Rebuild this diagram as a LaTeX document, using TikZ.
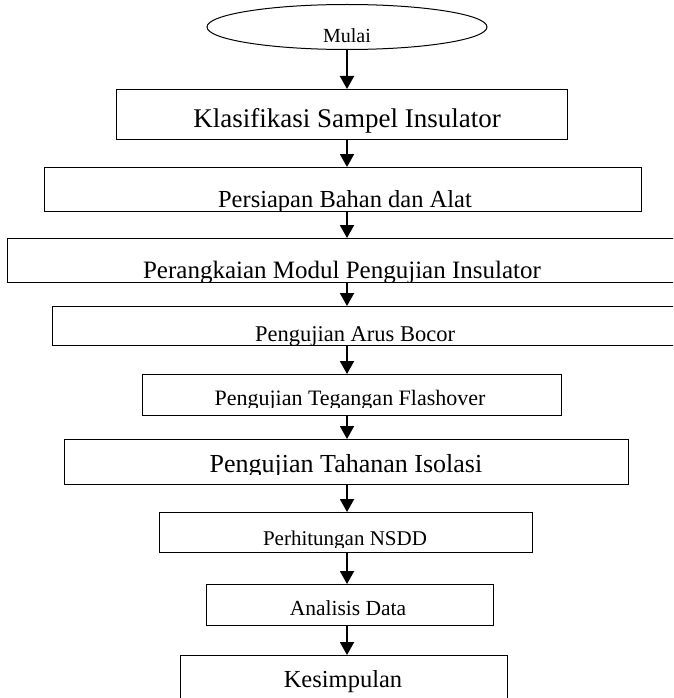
\documentclass[tikz,border=0pt]{standalone}
\usepackage{fontspec}
\setmainfont{Liberation Serif}
\usetikzlibrary{arrows.meta,shapes.geometric}

\tikzset{stepbox/.style={draw,line width=1.3pt,inner sep=0pt,anchor=north west},
startnode/.style={draw,ellipse,line width=1pt,inner sep=0pt},
steptext/.style={anchor=base,inner sep=0pt},
flow arrow/.style={line width=2pt,-{Triangle[width=14pt,length=13pt]}}}

\begin{document}
\begin{tikzpicture}[x=1pt,y=-1pt]
% page frame, 673 x 698
\clip (0,0) rectangle (673,698);
\useasboundingbox (0,0) rectangle (673,698);

%% axis of the arrows
\coordinate (axis) at (347,0);

%% start
\node [startnode,minimum width=280pt,minimum height=45pt] (mulai) at (347,27) {};
\node [steptext,font=\fontsize{20}{20}\selectfont] (mulai-text) at (347,43) {Mulai};

%% boxes
\node [stepbox,minimum width=451pt,minimum height=50pt] (klasifikasi) at (116,89) {};
\node [stepbox,minimum width=597pt,minimum height=44pt] (persiapan) at (44,167) {};
\node [stepbox,minimum width=700pt,minimum height=44pt] (perangkaian) at (7,238) {};
\node [stepbox,minimum width=700pt,minimum height=39pt] (arus) at (52,306) {};
\node [stepbox,minimum width=419pt,minimum height=41pt] (flashover) at (142,374) {};
\node [stepbox,minimum width=564pt,minimum height=45pt] (tahanan) at (64,439) {};
\node [stepbox,minimum width=373pt,minimum height=40pt] (nsdd) at (159,512) {};
\node [stepbox,minimum width=287pt,minimum height=41pt] (analisis) at (206,584) {};
\node [stepbox,minimum width=327pt,minimum height=60pt] (kesimpulan) at (180,655) {};

%% texts, cut off just under the base line
\begin{scope}
\clip (0,89) rectangle (673,139);
\node [steptext,font=\fontsize{27}{27}\selectfont] (klasifikasi-text) at (347,128) {Klasifikasi Sampel Insulator};
\end{scope}
\begin{scope}
\clip (0,167) rectangle (673,210);
\node [steptext,font=\fontsize{24.5}{24.5}\selectfont] (persiapan-text) at (345,207) {Persiapan Bahan dan Alat};
\end{scope}
\begin{scope}
\clip (0,238) rectangle (673,281);
\node [steptext,font=\fontsize{25}{25}\selectfont] (perangkaian-text) at (342,278) {Perangkaian Modul Pengujian Insulator};
\end{scope}
\begin{scope}
\clip (0,306) rectangle (673,344);
\node [steptext,font=\fontsize{22.5}{22.5}\selectfont] (arus-text) at (355,341) {Pengujian Arus Bocor};
\end{scope}
\begin{scope}
\clip (0,374) rectangle (673,407);
\node [steptext,font=\fontsize{22}{22}\selectfont] (flashover-text) at (350,405) {Pengujian Tegangan Flashover};
\end{scope}
\begin{scope}
\clip (0,439) rectangle (673,474);
\node [steptext,font=\fontsize{26}{26}\selectfont] (tahanan-text) at (346,472) {Pengujian Tahanan Isolasi};
\end{scope}
\begin{scope}
\clip (0,512) rectangle (673,547);
\node [steptext,font=\fontsize{21}{21}\selectfont] (nsdd-text) at (345,545) {Perhitungan NSDD};
\end{scope}
\node [steptext,font=\fontsize{21.5}{21.5}\selectfont] (analisis-text) at (348,615) {Analisis Data};
\node [steptext,font=\fontsize{24.5}{24.5}\selectfont] (kesimpulan-text) at (343,687) {Kesimpulan};

%% arrows
\draw [flow arrow] (axis |- mulai.south) -- (axis |- klasifikasi.north);
\foreach \a/\b in {klasifikasi/persiapan,persiapan/perangkaian,perangkaian/arus,
  arus/flashover,flashover/tahanan,tahanan/nsdd,nsdd/analisis,analisis/kesimpulan}
  \draw [flow arrow] (axis |- \a.south) -- (axis |- \b.north);

\end{tikzpicture}
\end{document}
